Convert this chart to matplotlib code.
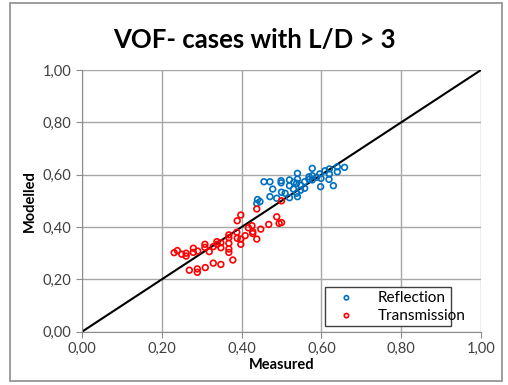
import matplotlib
matplotlib.use("Agg")
import matplotlib.pyplot as plt
from matplotlib.ticker import FuncFormatter, MultipleLocator
from matplotlib.patches import Rectangle

plt.rcParams['font.family'] = ['Lato', 'DejaVu Sans']

refl_x = [0.438, 0.446, 0.440, 0.456, 0.471, 0.478, 0.471, 0.488, 0.499, 0.499, 0.500,
          0.509, 0.520, 0.520, 0.520, 0.531, 0.540, 0.540, 0.538, 0.540, 0.538, 0.548,
          0.558, 0.558, 0.569, 0.569, 0.577, 0.577, 0.577, 0.588, 0.596, 0.599, 0.598,
          0.609, 0.620, 0.620, 0.619, 0.630, 0.640, 0.640, 0.658, 0.548, 0.530]
refl_y = [0.490, 0.497, 0.505, 0.573, 0.573, 0.545, 0.516, 0.510, 0.577, 0.569, 0.533,
          0.529, 0.580, 0.558, 0.512, 0.571, 0.605, 0.583, 0.567, 0.516, 0.529, 0.541,
          0.573, 0.548, 0.592, 0.582, 0.624, 0.596, 0.580, 0.590, 0.603, 0.586, 0.554,
          0.615, 0.622, 0.603, 0.582, 0.558, 0.630, 0.611, 0.628, 0.560, 0.545]

trans_x = [0.231, 0.239, 0.250, 0.261, 0.261, 0.279, 0.279, 0.290, 0.308, 0.308, 0.319,
           0.329, 0.338, 0.339, 0.348, 0.348, 0.368, 0.368, 0.368, 0.368, 0.368, 0.389,
           0.398, 0.388, 0.389, 0.398, 0.398, 0.409, 0.417, 0.426, 0.428, 0.428, 0.438,
           0.448, 0.468, 0.488, 0.494, 0.438, 0.269, 0.289, 0.289, 0.309, 0.329, 0.348,
           0.378, 0.500, 0.500]
trans_y = [0.302, 0.310, 0.296, 0.300, 0.289, 0.319, 0.303, 0.308, 0.334, 0.322, 0.306,
           0.325, 0.344, 0.334, 0.340, 0.321, 0.370, 0.359, 0.338, 0.316, 0.303, 0.424,
           0.446, 0.380, 0.357, 0.354, 0.334, 0.367, 0.397, 0.405, 0.382, 0.375, 0.354,
           0.392, 0.410, 0.439, 0.414, 0.469, 0.235, 0.240, 0.227, 0.245, 0.262, 0.257,
           0.274, 0.500, 0.417]

line_x = [0.0, 1.0]
line_y = [0.0, 1.0]

fig = plt.figure(figsize=(5.08, 3.85), dpi=100)
fig.patches.append(Rectangle((10/508, 1-381/385), 492/508, 378/385, transform=fig.transFigure,
                             fill=False, edgecolor='#8c8c8c', linewidth=1.2))
ax = fig.add_axes([82/508, 1-331.7/385, 399/508, 261.7/385])

ax.plot(line_x, line_y, color='black', linewidth=1.5, zorder=2)
ax.scatter(refl_x, refl_y, s=17, facecolors='none', edgecolors='#0070C0', linewidths=1.2,
           label='Reflection', zorder=3)
ax.scatter(trans_x, trans_y, s=17, facecolors='none', edgecolors='#FF0000', linewidths=1.2,
           label='Transmission', zorder=3)

ax.set_xlim(0, 1)
ax.set_ylim(0, 1)
ax.xaxis.set_major_locator(MultipleLocator(0.2))
ax.yaxis.set_major_locator(MultipleLocator(0.2))
fmt = FuncFormatter(lambda v, p: f"{v:.2f}".replace('.', ','))
ax.xaxis.set_major_formatter(fmt)
ax.yaxis.set_major_formatter(fmt)
ax.grid(True, color='#a6a6a6', linewidth=1.0, zorder=0)
ax.set_axisbelow(True)
for s in ['top', 'right']:
    ax.spines[s].set_visible(False)
for s in ['left', 'bottom']:
    ax.spines[s].set_color('#8c8c8c')
ax.tick_params(axis='both', colors='#8c8c8c', labelcolor='#404040', labelsize=10.5,
               length=4, direction='out')

ax.set_xlabel('Measured', fontsize=10.5, fontweight='bold', labelpad=1)
ax.set_ylabel('Modelled', fontsize=10.5, fontweight='bold', labelpad=4)

fig.text(0.5, 1-40/385, 'VOF- cases with L/D > 3', ha='center', va='center',
         fontsize=18.5, fontweight='bold')

leg = ax.legend(loc='center', bbox_to_anchor=(0.590, 0.019, 0.355, 0.153), mode='expand',
                fontsize=11, frameon=True, fancybox=False, framealpha=1, edgecolor='#404040',
                handletextpad=0.9, borderpad=0.25, labelspacing=0.25, markerscale=0.75,
                handlelength=2.3)
leg.get_frame().set_linewidth(1.0)

fig.savefig('out.png', dpi=100)
